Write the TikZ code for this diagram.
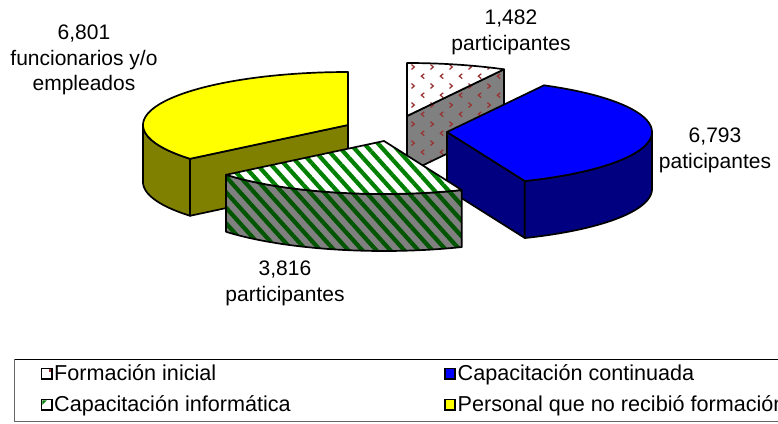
\documentclass[tikz,border=0pt]{standalone}
\usepackage{fontspec}
\setmainfont{Liberation Sans}
\usetikzlibrary{patterns,patterns.meta}
\definecolor{yel}{RGB}{255,255,0}
\definecolor{olivec}{RGB}{128,128,0}
\definecolor{blu}{RGB}{0,0,255}
\definecolor{navyc}{RGB}{0,0,128}
\definecolor{greyc}{RGB}{128,128,128}
\definecolor{stripetop}{RGB}{0,128,0}
\definecolor{stripeside}{RGB}{0,85,0}
\definecolor{divred}{RGB}{153,51,51}
\tikzdeclarepattern{
  name=divot,
  type=uncolored,
  bounding box={(0pt,0pt) and (19pt,19pt)},
  tile size={(19pt,19pt)},
  code={
    \draw[line width=1.3pt] (6.5pt,7.5pt) -- (3.5pt,5pt) -- (6.5pt,2.5pt);
    \draw[line width=1.3pt] (13pt,17pt) -- (16pt,14.5pt) -- (13pt,12pt);
  }
}
\tikzset{
  edge/.style={draw=black, line width=1.7pt, line join=round},
  topstripe/.style={preaction={fill=white}, pattern={Lines[angle=-48,distance=10.4pt,line width=4.2pt]}, pattern color=stripetop},
  sidestripe/.style={preaction={fill=greyc}, pattern={Lines[angle=-48,distance=10.4pt,line width=4.2pt]}, pattern color=stripeside},
  topdivot/.style={preaction={fill=white}, pattern=divot, pattern color=divred},
  sidedivot/.style={preaction={fill=greyc}, pattern=divot, pattern color=divred},
  lbl/.style={font=\fontsize{21}{25.5}\selectfont, align=center, anchor=north, inner sep=0pt},
  legtext/.style={font=\fontsize{21.6}{26}\selectfont, anchor=base west, inner sep=0pt},
  legsq/.style={draw=black, line width=1.8pt, minimum size=10.5pt, inner sep=0pt}
}
\begin{document}
\begin{tikzpicture}[x=1pt,y=-1pt]
\useasboundingbox (0,0) rectangle (778,423);
% ---------- Formacion inicial (back slice) ----------
\draw[edge, sidedivot] (407,116) -- (504.0,69.3) -- (504.0,126.3) -- (407,173) -- cycle;
\draw[edge, topdivot] (407,116) -- plot[domain=0:28.24, samples=20, variable=\t] ({407+205*sin(\t)},{116-53*cos(\t)}) -- cycle;
% ---------- Personal que no recibio formacion (yellow) ----------
\draw[edge, fill=olivec] plot[domain=230.4:270, samples=25, variable=\t] ({348+205*sin(\t)},{125-53*cos(\t)})
  -- plot[domain=270:230.4, samples=25, variable=\t] ({348+205*sin(\t)},{182-53*cos(\t)}) -- cycle;
\draw[edge, fill=olivec] (348,125) -- (190.05,158.78) -- (190.05,215.78) -- (348,182) -- cycle;
\draw[edge, fill=yel] (348,125) -- plot[domain=230.4:360, samples=60, variable=\t] ({348+205*sin(\t)},{125-53*cos(\t)}) -- cycle;
% ---------- Capacitacion continuada (blue) ----------
\draw[edge, fill=navyc] (447,132) -- (524.8,181.0) -- (524.8,238) -- (447,189) -- cycle;
\draw[edge, fill=navyc] plot[domain=90:157.69, samples=40, variable=\t] ({447+205*sin(\t)},{132-53*cos(\t)})
  -- plot[domain=157.69:90, samples=40, variable=\t] ({447+205*sin(\t)},{189-53*cos(\t)}) -- cycle;
\draw[edge, fill=blu] (447,132) -- plot[domain=28.24:157.69, samples=60, variable=\t] ({447+205*sin(\t)},{132-53*cos(\t)}) -- cycle;
% ---------- Capacitacion informatica (green stripes) ----------
\draw[edge, sidestripe] plot[domain=157.69:230.4, samples=40, variable=\t] ({384+205*sin(\t)},{141-53*cos(\t)})
  -- plot[domain=230.4:157.69, samples=40, variable=\t] ({384+205*sin(\t)},{198-53*cos(\t)}) -- cycle;
\draw[edge, topstripe] (384,141) -- plot[domain=157.69:230.4, samples=40, variable=\t] ({384+205*sin(\t)},{141-53*cos(\t)}) -- cycle;
% ---------- data labels ----------
\node[lbl] (lab1) at (84,24.8) {6,801\\funcionarios y/o\\empleados};
\node[lbl] (lab2) at (511,9.8) {1,482\\participantes};
\node[lbl] (lab3) at (715,127.8) {6,793\\paticipantes};
\node[lbl] (lab4) at (285,260.8) {3,816\\participantes};
% ---------- legend ----------
\draw[black, line width=1pt] (800,359) -- (14.5,359);
\draw[black!60, line width=1.5pt] (14.5,359) -- (14.5,421.5) -- (800,421.5);
\node[legsq, fill=white] (sq1) at (46.7,373.8) {};
\fill[divred] (48.6,369.4) rectangle (50.8,372);
\node[legtext] (tx1) at (54,380.5) {Formación inicial};
\node[legsq, fill=white] (sq2) at (46.7,404.8) {};
\fill[stripetop] (42.4,400.4) -- (46.8,400.4) -- (42.4,404.8) -- cycle;
\node[legtext] (tx2) at (54,411.5) {Capacitación informática};
\node[legsq, fill=blu] (sq3) at (450,373.8) {};
\node[legtext] (tx3) at (457.5,380.5) {Capacitación continuada};
\node[legsq, fill=yel] (sq4) at (450,404.8) {};
\node[legtext] (tx4) at (457.5,411.5) {Personal que no recibió formación};
\end{tikzpicture}
\end{document}
